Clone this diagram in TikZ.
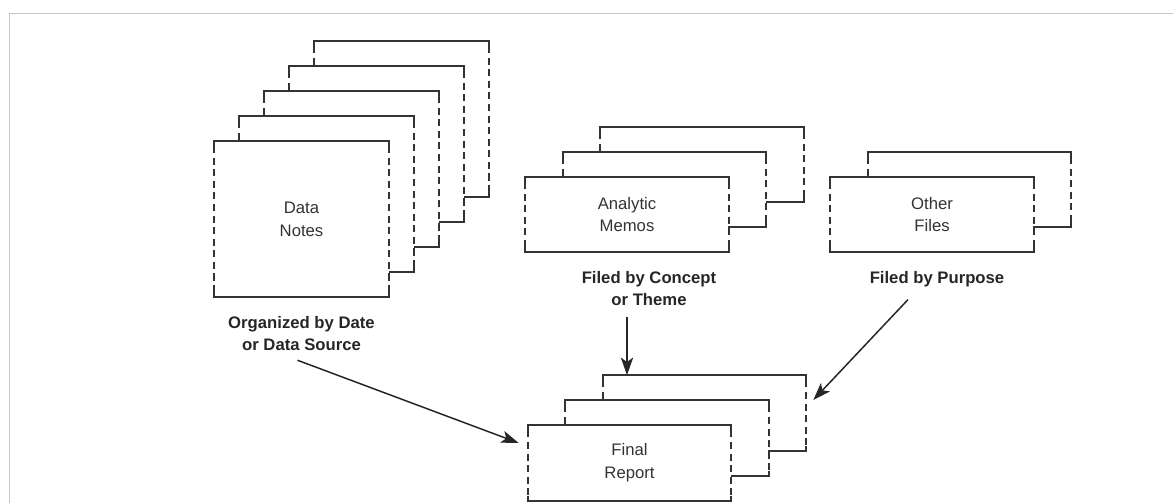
\documentclass[tikz,border=0pt]{standalone}
\usepackage{fontspec}
\setmainfont{Liberation Sans}
\usepackage{tikz}
\usetikzlibrary{arrows.meta,positioning}

% one sheet of paper: solid top and bottom, dashed sides
\newcommand{\docsheet}[4]{%
  \node[#2] (#1) at (#3) {#4};
  \draw[sheetline] ([yshift=-3pt]#1.north west) -- (#1.north west) -- (#1.north east) -- ([yshift=-3pt]#1.north east);
  \draw[sheetline] ([yshift=3pt]#1.south west) -- (#1.south west) -- (#1.south east) -- ([yshift=3pt]#1.south east);
  \draw[sheetline, sheetdash] ([yshift=-3pt]#1.north west) -- ([yshift=3pt]#1.south west);
  \draw[sheetline, sheetdash] ([yshift=-3pt]#1.north east) -- ([yshift=3pt]#1.south east);
}

\begin{document}
\begin{tikzpicture}[
    x=0.02cm, y=0.02cm,
    every node/.style={font=\fontsize{9.5}{13}\selectfont},
    sheet/.style={fill=white, inner sep=0pt, align=center, text=black!80},
    tallsheet/.style={sheet, minimum width=3.5cm, minimum height=3.12cm},
    widesheet/.style={sheet, minimum width=4.06cm, minimum height=1.5cm},
    sheetline/.style={draw=black!80, line width=1pt},
    sheetdash/.style={dash pattern=on 4pt off 2.6pt},
    lbl/.style={align=center, inner sep=0pt, text=black!85, font=\fontsize{9.5}{12.5}\selectfont\bfseries},
    arr/.style={-{Stealth[length=10pt, width=7pt, inset=2.5pt]}, line width=0.85pt, draw=black!85},
    frame/.style={draw=black!22, line width=1.1pt}
]
\useasboundingbox (0,0) rectangle (1173,503);

% Frame
\draw[frame] (9.5,0) -- (9.5,489.5) -- (1173,489.5);

% Data notes
\docsheet{notes5}{tallsheet}{401.5,384}{}
\docsheet{notes4}{tallsheet}{376.5,359}{}
\docsheet{notes3}{tallsheet}{351.5,334}{}
\docsheet{notes2}{tallsheet}{326.5,309}{}
\docsheet{notes1}{tallsheet}{301.5,284}{Data\\Notes}
\node[lbl, below=0.38cm of notes1] (lblnotes) {Organized by Date\\or Data Source};

% Analytic memos
\docsheet{memos3}{widesheet}{702,338.5}{}
\docsheet{memos2}{widesheet}{664.5,313.5}{}
\docsheet{memos1}{widesheet}{627,288.5}{Analytic\\Memos}
\node[lbl, below=0.38cm of memos1, xshift=0.44cm] (lblmemos) {Filed by Concept\\or Theme};

% Other files
\docsheet{files2}{widesheet}{969.5,313.5}{}
\docsheet{files1}{widesheet}{932,288.5}{Other\\Files}
\node[lbl, below=0.38cm of files1, xshift=0.1cm] (lblfiles) {Filed by Purpose};

% Final report
\docsheet{report3}{widesheet}{704.5,90}{}
\docsheet{report2}{widesheet}{667,65}{}
\docsheet{report1}{widesheet}{629.5,40}{Final\\Report}

% Connections
\draw[arr] ([shift={(-4,-9)}]lblnotes.south) -- ([shift={(-9,20)}]report1.west);
\draw[arr, shorten <=0.22cm] (memos1.south |- lblmemos.south) -- (memos1.south |- report3.north);
\draw[arr] ([shift={(-29,-12)}]lblfiles.south) -- ([shift={(7,13)}]report3.east);

\end{tikzpicture}
\end{document}
